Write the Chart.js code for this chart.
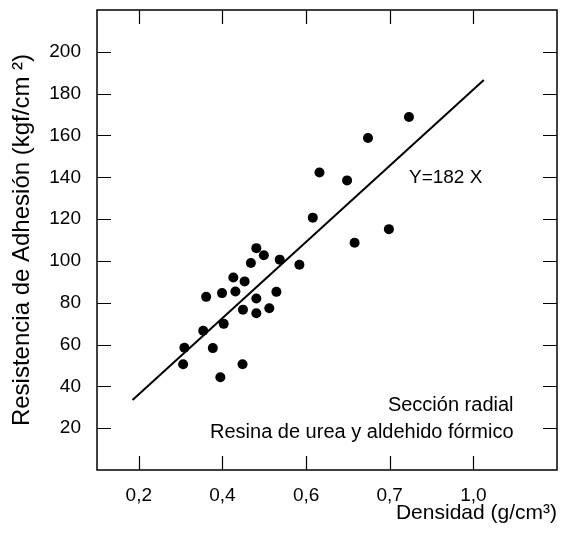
<!DOCTYPE html>
<html>
<head>
<meta charset="utf-8">
<script src="https://cdn.jsdelivr.net/npm/chart.js@4/dist/chart.umd.min.js"></script>
<style>
  html, body { margin: 0; padding: 0; background: #fff; }
  #wrap { width: 565px; height: 546px; }
</style>
</head>
<body>
<div id="wrap"><canvas id="chart" width="565" height="546"></canvas></div>
<script>
// densidad (g/cm3) and resistencia (kgf/cm2)
const densidad = [0.632, 0.698, 0.748, 0.846, 0.616, 0.798, 0.716, 0.481, 0.499, 0.468,
                  0.537, 0.584, 0.426, 0.453, 0.361, 0.399, 0.431, 0.529, 0.481, 0.449,
                  0.481, 0.512, 0.354, 0.403, 0.309, 0.377, 0.306, 0.448, 0.395]
const resistencia = [142.3, 138.5, 158.8, 168.8, 120.7, 115.2, 108.7, 106.1, 102.7, 99.0,
                     100.6, 98.2, 92.1, 90.2, 82.8, 84.6, 85.4, 85.2, 82.0, 76.7,
                     75.0, 77.4, 66.6, 69.9, 58.5, 58.3, 50.6, 50.6, 44.4]

// regression line Y = 182 X, end points as drawn
const fitX = [0.185, 1.025]
const fitY = [33.5, 186.5]

// axis ticks (the x labels are printed as in the original)
const xTickPos = [0.2, 0.4, 0.6, 0.8, 1.0]
const xTickLabels = ["0,2", "0,4", "0,6", "0,7", "1,0"]
const yTicks = [20, 40, 60, 80, 100, 120, 140, 160, 180, 200]

const FONT = "Arial, 'Liberation Sans', sans-serif"

// frame, inward ticks on all four sides and text notes
const framePlugin = {
  id: "frame",
  afterDraw(chart) {
    const ctx = chart.ctx
    const a = chart.chartArea
    const xs = chart.scales.x
    const ys = chart.scales.y
    const len = 14
    ctx.save()
    ctx.strokeStyle = "#000"
    ctx.lineWidth = 1.5
    ctx.strokeRect(a.left, a.top, a.right - a.left, a.bottom - a.top)
    ctx.lineWidth = 1.2
    ctx.beginPath()
    xTickPos.forEach(v => {
      const px = Math.round(xs.getPixelForValue(v)) + 0.5
      ctx.moveTo(px, a.bottom); ctx.lineTo(px, a.bottom - len)
      ctx.moveTo(px, a.top); ctx.lineTo(px, a.top + len)
    })
    yTicks.forEach(v => {
      const py = Math.round(ys.getPixelForValue(v)) + 0.5
      ctx.moveTo(a.left, py); ctx.lineTo(a.left + len, py)
      ctx.moveTo(a.right, py); ctx.lineTo(a.right - len, py)
    })
    ctx.stroke()

    ctx.fillStyle = "#000"
    ctx.textBaseline = "middle"
    ctx.textAlign = "left"
    ctx.font = "19px " + FONT
    ctx.fillText("Y=182 X", xs.getPixelForValue(0.846), ys.getPixelForValue(140))
    ctx.font = "20px " + FONT
    ctx.textAlign = "right"
    ctx.fillText("Sección radial", xs.getPixelForValue(1.096), ys.getPixelForValue(31))
    ctx.fillText("Resina de urea y aldehido fórmico", xs.getPixelForValue(1.096), ys.getPixelForValue(18))
    ctx.restore()
  }
}

new Chart(document.getElementById("chart"), {
  type: "scatter",
  data: {
    datasets: [
      {
        label: "Muestras",
        data: densidad.map((d, i) => ({ x: d, y: resistencia[i] })),
        backgroundColor: "#000",
        borderWidth: 0,
        pointRadius: 5
      },
      {
        type: "line",
        label: "Y=182 X",
        data: fitX.map((d, i) => ({ x: d, y: fitY[i] })),
        borderColor: "#000",
        borderWidth: 2,
        pointRadius: 0,
        fill: false
      }
    ]
  },
  options: {
    responsive: false,
    animation: false,
    layout: { padding: { top: 10, right: 8, left: 0, bottom: 0 } },
    plugins: {
      legend: { display: false },
      tooltip: { enabled: false }
    },
    scales: {
      x: {
        type: "linear",
        min: 0.1,
        max: 1.2,
        afterBuildTicks: s => { s.ticks = xTickPos.map(v => ({ value: v })) },
        afterFit: s => { s.height = 76; s.paddingLeft = 0; s.paddingRight = 0 },
        grid: { display: false, drawTicks: false },
        border: { display: false },
        ticks: {
          padding: 14,
          color: "#000",
          font: { family: FONT, size: 19 },
          callback: v => xTickLabels[xTickPos.indexOf(v)]
        },
        title: {
          display: true,
          text: "Densidad (g/cm³)",
          align: "end",
          color: "#000",
          font: { family: FONT, size: 21 },
          padding: { top: 0, bottom: 20 }
        }
      },
      y: {
        min: 0,
        max: 220,
        afterBuildTicks: s => { s.ticks = yTicks.map(v => ({ value: v })) },
        afterFit: s => { s.width = 97; s.paddingTop = 0; s.paddingBottom = 0 },
        grid: { display: false, drawTicks: false },
        border: { display: false },
        ticks: {
          padding: 16,
          color: "#000",
          font: { family: FONT, size: 19 }
        },
        title: {
          display: true,
          text: "Resistencia de Adhesión (kgf/cm ²)",
          color: "#000",
          font: { family: FONT, size: 24 },
          padding: { top: 8, bottom: 0 }
        }
      }
    }
  },
  plugins: [framePlugin]
})
</script>
</body>
</html>
